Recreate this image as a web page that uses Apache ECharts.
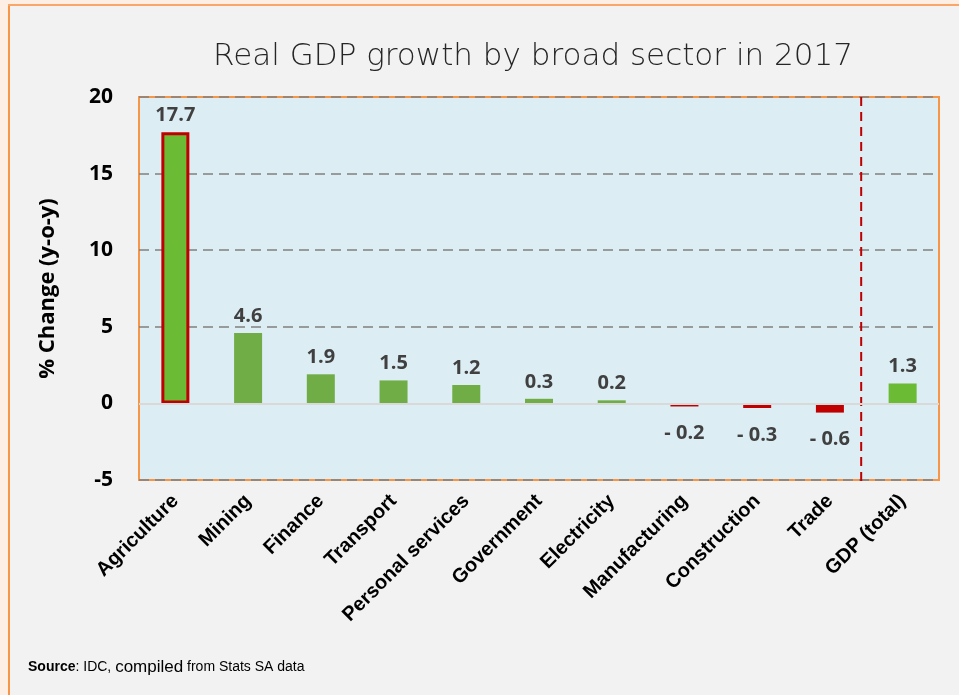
<!DOCTYPE html>
<html>
<head>
<meta charset="utf-8">
<script src="https://cdn.jsdelivr.net/npm/echarts@6/dist/echarts.min.js"></script>
<style>
  html, body { margin: 0; padding: 0; background: #fdefe4; }
  #chart { width: 959px; height: 695px; }
</style>
</head>
<body>
<div id="chart"></div>
<script>
// Sector growth rates, 2017 (% y-o-y)
const sectors = ['Agriculture', 'Mining', 'Finance', 'Transport', 'Personal services',
  'Government', 'Electricity', 'Manufacturing', 'Construction', 'Trade', 'GDP (total)'];
const growth = [17.7, 4.6, 1.9, 1.5, 1.2, 0.3, 0.2, -0.2, -0.3, -0.6, 1.3];
const yTicks = [-5, 0, 5, 10, 15, 20];
// separator before the total, in category units, spanning the value range
const separatorAt = 9.93;
const separatorSpan = [20, -5.3];

const GREEN = '#70ad47';
const GREEN_BRIGHT = '#6bbb35';
const RED = '#c00000';

const barData = growth.map((v, i) => {
  const item = { value: v, itemStyle: { color: v < 0 ? RED : GREEN } };
  if (i === 0) {
    item.itemStyle = { color: GREEN_BRIGHT, borderColor: RED, borderWidth: 3 };
  }
  if (i === growth.length - 1) {
    item.itemStyle = { color: GREEN_BRIGHT };
  }
  item.label = v < 0 ? { position: 'bottom', distance: 17 } : { position: 'top', distance: 7 };
  return item;
});

const chart = echarts.init(document.getElementById('chart'), null, { renderer: 'canvas' });

chart.setOption({
  backgroundColor: 'transparent',
  animation: false,
  graphic: [
    { type: 'rect', left: 8, top: 4, shape: { width: 951, height: 691 },
      style: { fill: '#f2f2f2' }, z: -10 },
    { type: 'line', shape: { x1: 9, y1: 4, x2: 9, y2: 695 },
      style: { stroke: '#f79646', lineWidth: 2 }, z: -5 },
    { type: 'line', shape: { x1: 8, y1: 5, x2: 959, y2: 5 },
      style: { stroke: '#f9a66a', lineWidth: 2 }, z: -5 },
    { type: 'text', left: 28, top: 659,
      style: {
        text: '{b|Source}{n|: IDC, }{c|compiled}{n| from Stats SA data}',
        rich: {
          b: { fontFamily: 'Liberation Sans', fontWeight: 'bold', fontSize: 14, fill: '#000' },
          n: { fontFamily: 'Liberation Sans', fontSize: 14, fill: '#000' },
          c: { fontFamily: 'Liberation Sans', fontSize: 17, fill: '#000' }
        }
      } }
  ],
  title: {
    text: 'Real GDP growth by broad sector in 2017',
    left: 528, top: 36, textAlign: 'center',
    textStyle: { fontFamily: 'DejaVu Sans', fontWeight: 200, fontSize: 31, color: '#262626' }
  },
  grid: {
    left: 139, right: 20, top: 97, bottom: 215,
    show: true, backgroundColor: '#dcedf3', borderColor: '#f79646', borderWidth: 2
  },
  xAxis: [{
    type: 'category',
    data: sectors,
    axisLine: { show: false },
    axisTick: { show: false },
    axisLabel: {
      rotate: 45, interval: 0, margin: 18,
      fontFamily: 'Liberation Sans', fontWeight: 'bold', fontSize: 20, color: '#000'
    }
  }, {
    type: 'value', min: 0, max: 11, show: false
  }],
  yAxis: {
    type: 'value', min: -5, max: 20, interval: 5,
    name: '% Change (y-o-y)', nameLocation: 'middle', nameGap: 80, nameRotate: 90,
    nameTextStyle: { fontFamily: 'Open Sans', fontWeight: 'bold', fontSize: 22, color: '#000' },
    axisLine: { show: false },
    axisTick: { show: false },
    axisLabel: {
      margin: 26, fontFamily: 'Open Sans', fontWeight: 'bold', fontSize: 21, color: '#000',
      formatter: v => (yTicks.includes(v) ? String(v) : '')
    },
    splitLine: {
      show: true,
      lineStyle: { color: '#808080', type: [10, 6], width: 1.5 }
    }
  },
  series: [{
    type: 'bar',
    data: barData,
    barWidth: 28,
    label: {
      show: true,
      fontFamily: 'Open Sans', fontWeight: 'bold', fontSize: 20, color: '#404040',
      formatter: p => (p.value < 0 ? '- ' + Math.abs(p.value).toFixed(1) : p.value.toFixed(1))
    },
    markLine: {
      silent: true, symbol: 'none', label: { show: false },
      lineStyle: { color: '#d9d9d9', type: 'solid', width: 2 },
      data: [{ yAxis: 0 }]
    },
    z: 3
  }, {
    type: 'line',
    xAxisIndex: 1,
    data: separatorSpan.map(y => [separatorAt, y]),
    symbol: 'none',
    clip: false,
    silent: true,
    lineStyle: { color: RED, type: [9, 6], width: 2 },
    z: 4
  }]
});
</script>
</body>
</html>
